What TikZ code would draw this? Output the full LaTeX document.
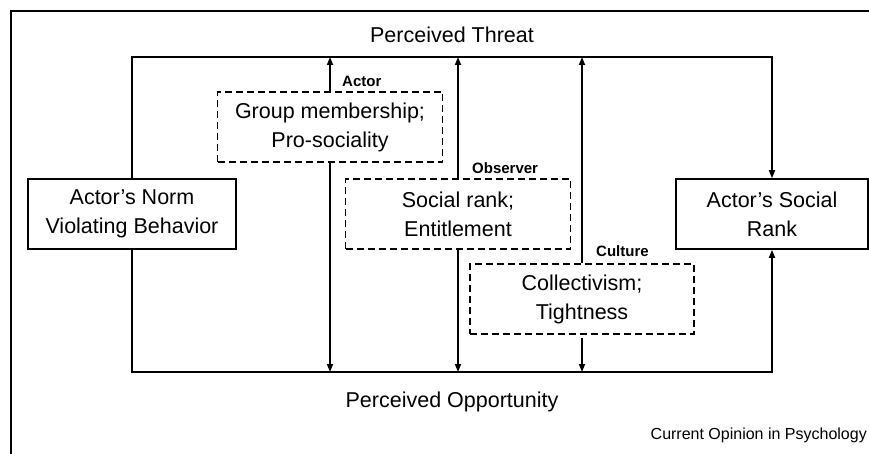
\documentclass[tikz,border=0pt]{standalone}
\usepackage{fontspec}
\setmainfont{Liberation Sans}
\usetikzlibrary{arrows.meta}

\begin{document}
\begin{tikzpicture}[x=1pt,y=-1pt,>={Triangle[length=8pt,width=6pt]},
			line/.style={line width=1.6pt},
			box/.style={draw,line width=1.6pt,inner sep=0pt,minimum height=70pt,align=center,font=\fontsize{21.5}{29}\selectfont},
			modbox/.style={box,dash pattern=on 7pt off 4pt,minimum width=225pt},
			tag/.style={anchor=west,inner sep=0pt,font=\fontsize{15}{18}\bfseries\selectfont},
			lbl/.style={inner sep=0pt,font=\fontsize{21.5}{26}\selectfont}]
			\useasboundingbox (0,0) rectangle (869,454);
			% page frame
			\draw[line width=1.2pt] (11,454) -- (11,11) -- (869,11);
			\node[lbl] (threat) at (452,35) {Perceived Threat};
			\node[lbl] (opport) at (452,402) {Perceived Opportunity};
			\node[anchor=east,inner sep=0pt,font=\fontsize{16}{18}\selectfont] (journal) at (867,435) {Current Opinion in Psychology};
			% end points
			\node[box,minimum width=208pt] (norm) at (132,214) {Actor’s Norm\\Violating Behavior};
			\node[box,minimum width=192pt] (rank) at (772,214) {Actor’s Social\\Rank};
			% moderators
			\node[modbox] (group) at (330,127) {Group membership;\\Pro-sociality};
			\node[modbox] (social) at (458,214) {Social rank;\\Entitlement};
			\node[modbox,minimum width=224pt] (culture) at (582,299) {Collectivism;\\Tightness};
			\node[tag] (actor) at (342,81) {Actor};
			\node[tag] (observer) at (472,168) {Observer};
			\node[tag] (cult) at (596,251) {Culture};
			% the two paths
			\coordinate (tl) at (132,57);
			\coordinate (tr) at (772,57);
			\coordinate (bl) at (132,372);
			\coordinate (br) at (772,372);
			\draw[line,->] (norm.north) -- (tl) -- (tr) -- (rank.north);
			\draw[line,->] (norm.south) -- (bl) -- (br) -- (rank.south);
			% moderator arrows
			\draw[line,->] (group.north) -- (group.north |- tl);
			\draw[line,->] (group.south) -- (group.south |- bl);
			\draw[line,->] (social.north) -- (social.north |- tl);
			\draw[line,->] (social.south) -- (social.south |- bl);
			\draw[line,->] (culture.north) -- (culture.north |- tl);
			\draw[line,->,shorten <=3pt] (culture.south) -- (culture.south |- bl);
\end{tikzpicture}
\end{document}
